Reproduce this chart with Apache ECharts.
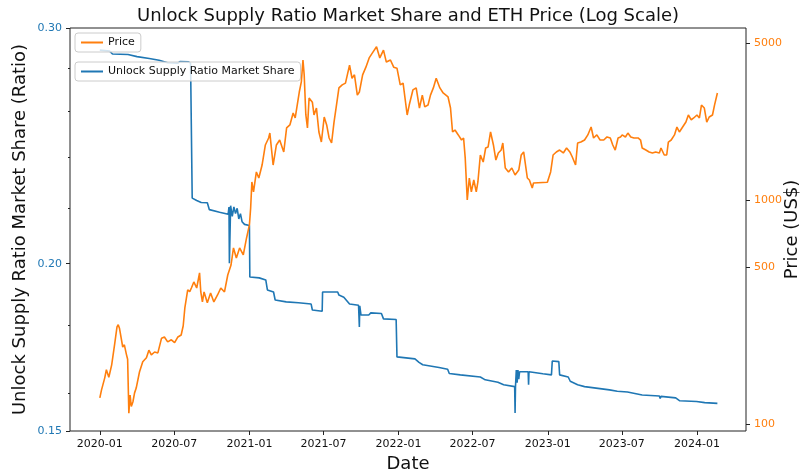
<!DOCTYPE html>
<html>
<head>
<meta charset="utf-8">
<script src="https://cdn.jsdelivr.net/npm/echarts@6/dist/echarts.min.js"></script>
<style>
	html, body {margin: 0; padding: 0; background: #fff;}
	#chart {width: 803px; height: 476px;}
</style>
</head>
<body>
<div id="chart"></div>
<script>
//ETH price
var priceDates = [
	'2020-01-01','2020-01-05','2020-01-13','2020-01-17','2020-01-23','2020-01-30','2020-02-06','2020-02-12','2020-02-15','2020-02-18',
	'2020-02-22','2020-02-26','2020-03-01','2020-03-06','2020-03-09','2020-03-12','2020-03-15','2020-03-18','2020-03-22','2020-03-26',
	'2020-03-30','2020-04-07','2020-04-15','2020-04-24','2020-04-30','2020-05-06','2020-05-14','2020-05-22','2020-05-31','2020-06-07',
	'2020-06-15','2020-06-24','2020-07-02','2020-07-10','2020-07-18','2020-07-23','2020-07-27','2020-08-03','2020-08-08','2020-08-12',
	'2020-08-18','2020-08-25','2020-09-01','2020-09-04','2020-09-08','2020-09-12','2020-09-20','2020-09-28','2020-10-06','2020-10-15',
	'2020-10-23','2020-11-01','2020-11-09','2020-11-17','2020-11-23','2020-11-30','2020-12-08','2020-12-17','2020-12-25','2021-01-01',
	'2021-01-04','2021-01-07','2021-01-11','2021-01-18','2021-01-24','2021-02-01','2021-02-09','2021-02-17','2021-02-20','2021-02-28',
	'2021-03-08','2021-03-16','2021-03-26','2021-04-02','2021-04-10','2021-04-18','2021-04-23','2021-05-03','2021-05-08','2021-05-12',
	'2021-05-15','2021-05-19','2021-05-23','2021-05-27','2021-06-04','2021-06-08','2021-06-14','2021-06-20','2021-06-26','2021-07-03',
	'2021-07-09','2021-07-15','2021-07-21','2021-07-27','2021-08-02','2021-08-08','2021-08-16','2021-08-24','2021-09-03','2021-09-09',
	'2021-09-15','2021-09-22','2021-09-27','2021-10-05','2021-10-13','2021-10-21','2021-10-29','2021-11-08','2021-11-16','2021-11-25',
	'2021-12-02','2021-12-12','2021-12-20','2021-12-28','2022-01-05','2022-01-12','2022-01-22','2022-01-27','2022-02-05','2022-02-13',
	'2022-02-21','2022-02-28','2022-03-06','2022-03-14','2022-03-20','2022-03-27','2022-04-03','2022-04-12','2022-04-20','2022-05-02',
	'2022-05-08','2022-05-13','2022-05-19','2022-05-27','2022-06-04','2022-06-09','2022-06-13','2022-06-18','2022-06-23','2022-06-28',
	'2022-07-04','2022-07-10','2022-07-14','2022-07-20','2022-07-27','2022-08-02','2022-08-08','2022-08-14','2022-08-21','2022-08-27',
	'2022-09-02','2022-09-09','2022-09-13','2022-09-19','2022-09-27','2022-10-05','2022-10-13','2022-10-22','2022-10-28','2022-11-03',
	'2022-11-07','2022-11-12','2022-11-17','2022-11-24','2022-11-27','2022-12-31','2023-01-08','2023-01-14','2023-01-22','2023-01-30',
	'2023-02-08','2023-02-16','2023-02-24','2023-03-02','2023-03-10','2023-03-15','2023-03-23','2023-04-01','2023-04-09','2023-04-17',
	'2023-04-23','2023-05-01','2023-05-09','2023-05-18','2023-05-26','2023-06-03','2023-06-09','2023-06-15','2023-06-22','2023-06-28',
	'2023-07-02','2023-07-10','2023-07-16','2023-07-23','2023-07-31','2023-08-10','2023-08-16','2023-08-20','2023-08-29','2023-09-06',
	'2023-09-14','2023-09-22','2023-10-01','2023-10-05','2023-10-13','2023-10-19','2023-10-23','2023-10-30','2023-11-07','2023-11-13',
	'2023-11-19','2023-11-27','2023-12-05','2023-12-11','2023-12-18','2023-12-24','2024-01-01','2024-01-07','2024-01-12','2024-01-19',
	'2024-01-25','2024-01-31','2024-02-08','2024-02-13','2024-02-20'
]
var priceValues = [
	131,142,161,175,162,184,226,272,278,268,
	263,221,226,205,195,112,135,120,126,138,
	145,171,190,198,214,204,210,208,242,245,
	233,238,231,245,250,275,330,397,390,405,
	431,405,473,389,351,389,348,385,351,377,
	405,389,463,513,611,551,611,569,677,774,
	921,1203,1086,1333,1253,1432,1759,1890,1988,1432,
	1759,1851,1637,2095,2161,2444,2321,3030,3360,4210,
	3615,2400,2095,2850,2730,2393,2570,2010,1813,2344,
	2161,1890,1795,2226,2650,3160,3260,3320,3995,3490,
	3615,2935,3030,3615,3910,4300,4530,4820,4300,4660,
	4120,4210,3910,3870,3260,3320,2393,2650,3095,3160,
	2570,2935,2600,2650,2935,3160,3490,3160,3000,2880,
	2570,2010,2051,1950,1851,1890,1540,1000,1253,1086,
	1228,1086,1203,1587,1476,1705,1723,2010,1759,1507,
	1620,1670,1795,1389,1333,1389,1292,1360,1587,1637,
	1637,1253,1228,1131,1190,1200,1333,1587,1637,1670,
	1620,1705,1637,1555,1432,1795,1813,1851,1950,2115,
	1890,1950,1851,1851,1910,1890,1759,1670,1890,1910,
	1950,1910,1988,1910,1890,1890,1851,1705,1670,1637,
	1620,1637,1620,1705,1587,1587,1813,1851,1950,2115,
	2010,2115,2226,2393,2274,2321,2393,2321,2650,2570,
	2226,2344,2393,2650,3000
]

//unlock supply ratio, step-like
var ratioDates = [
	'2020-01-01','2020-01-25','2020-02-01','2020-03-10','2020-04-01','2020-05-01','2020-05-25','2020-06-15','2020-07-10','2020-07-15',
	'2020-08-05','2020-08-10','2020-08-14','2020-08-25','2020-09-05','2020-09-20','2020-09-25','2020-10-20','2020-11-10','2020-11-12',
	'2020-11-13','2020-11-16','2020-11-20','2020-11-24','2020-11-28','2020-12-02','2020-12-06','2020-12-10','2020-12-14','2020-12-20',
	'2021-01-01','2021-01-02','2021-01-25','2021-02-10','2021-02-14','2021-03-01','2021-03-05','2021-04-01','2021-05-01','2021-06-01',
	'2021-06-04','2021-06-28','2021-06-29','2021-08-05','2021-08-08','2021-08-20','2021-09-03','2021-09-25','2021-09-27','2021-09-28',
	'2021-10-01','2021-10-20','2021-10-25','2021-11-20','2021-11-25','2021-12-26','2021-12-28','2022-02-10','2022-02-20','2022-03-01',
	'2022-04-10','2022-05-01','2022-05-05','2022-06-01','2022-07-20','2022-08-01','2022-09-01','2022-09-15','2022-10-12','2022-10-13',
	'2022-10-14','2022-10-16','2022-10-18','2022-10-20','2022-10-22','2022-10-24','2022-11-14','2022-11-15','2022-11-16','2022-12-20',
	'2023-01-10','2023-01-12','2023-01-28','2023-01-30','2023-02-20','2023-02-25','2023-03-15','2023-04-01','2023-06-01','2023-06-20',
	'2023-07-15','2023-08-20','2023-10-01','2023-10-03','2023-10-05','2023-11-10','2023-11-20','2023-12-31','2024-01-20','2024-02-20'
]
var ratioValues = [
	0.2888,0.2883,0.2869,0.2866,0.2856,0.2847,0.2838,0.2826,0.2824,0.2832,
	0.2830,0.2824,0.2239,0.2230,0.2222,0.2221,0.2195,0.2185,0.2178,0.2205,
	0.2002,0.2210,0.2170,0.2205,0.2180,0.2200,0.2160,0.2180,0.2150,0.2140,
	0.2136,0.1955,0.1952,0.1945,0.1912,0.1905,0.1879,0.1873,0.1870,0.1866,
	0.1847,0.1843,0.1905,0.1905,0.1895,0.1888,0.1866,0.1862,0.1794,0.1860,
	0.1831,0.1831,0.1838,0.1836,0.1819,0.1817,0.1704,0.1698,0.1688,0.1681,
	0.1673,0.1668,0.1656,0.1652,0.1646,0.1638,0.1631,0.1624,0.1619,0.1547,
	0.1619,0.1666,0.1630,0.1666,0.1640,0.1661,0.1661,0.1624,0.1661,0.1655,
	0.1652,0.1692,0.1690,0.1652,0.1646,0.1634,0.1624,0.1619,0.1610,0.1606,
	0.1604,0.1596,0.1593,0.1586,0.1592,0.1588,0.1580,0.1578,0.1575,0.1573
]

var xTickDates = ['2020-01-01','2020-07-01','2021-01-01','2021-07-01','2022-01-01','2022-07-01','2023-01-01','2023-07-01','2024-01-01']
var ratioMajorTicks = [0.15, 0.20, 0.30]
var ratioMinorTicks = [0.16, 0.18, 0.22, 0.24, 0.26, 0.28]
var priceTicks = [100, 500, 1000, 5000]
var ratioRange = [0.15, 0.30]
var priceRange = [93.3, 5846]
var dateRange = ['2019-10-20', '2024-04-30']

var blue = '#1f77b4'
var orange = '#ff7f0e'
var font = 'DejaVu Sans'

function toTime(s) {
	var p = s.split('-')
	return Date.UTC(+p[0], +p[1] - 1, +p[2])
}
function lg(v) {
	return Math.log10(v)
}
function pad2(n) {
	return n < 10 ? '0' + n : '' + n
}

var priceData = priceDates.map(function(d, i) { return [toTime(d), lg(priceValues[i])] })
var ratioData = ratioDates.map(function(d, i) { return [toTime(d), lg(ratioValues[i])] })

var chart = echarts.init(document.getElementById('chart'), null, {renderer: 'canvas'})

var option = {
	animation: false,
	backgroundColor: '#fff',
	textStyle: {fontFamily: font},
	title: {
		text: 'Unlock Supply Ratio Market Share and ETH Price (Log Scale)',
		left: 403,
		top: 2,
		textAlign: 'center',
		textStyle: {fontFamily: font, fontSize: 18, fontWeight: 'normal', color: '#111'}
	},
	legend: [{
		data: ['Price'],
		left: 75, top: 33,
		orient: 'vertical',
		icon: 'rect', itemWidth: 22, itemHeight: 2,
		padding: [4, 6, 4, 6],
		backgroundColor: 'rgba(255,255,255,0.8)',
		borderColor: '#cccccc', borderWidth: 1, borderRadius: 3,
		textStyle: {fontFamily: font, fontSize: 11, color: '#111'},
		z: 6
	}, {
		data: ['Unlock Supply Ratio Market Share'],
		left: 75, top: 62,
		orient: 'vertical',
		icon: 'rect', itemWidth: 22, itemHeight: 2,
		padding: [4, 6, 4, 6],
		backgroundColor: 'rgba(255,255,255,0.8)',
		borderColor: '#cccccc', borderWidth: 1, borderRadius: 3,
		textStyle: {fontFamily: font, fontSize: 11, color: '#111'},
		z: 3
	}],
	grid: {
		left: 70, right: 57, top: 28, bottom: 45,
		containLabel: false,
		outerBoundsMode: 'none',
		show: true, borderColor: '#222', borderWidth: 1, backgroundColor: 'transparent'
	},
	xAxis: {
		type: 'value',
		min: toTime(dateRange[0]),
		max: toTime(dateRange[1]),
		name: 'Date',
		nameLocation: 'middle',
		nameGap: 24,
		nameMoveOverlap: false,
		nameTextStyle: {fontFamily: font, fontSize: 18, color: '#111'},
		axisLine: {show: false},
		splitLine: {show: false},
		axisTick: {show: true, length: 4, lineStyle: {color: '#222'}, customValues: xTickDates.map(toTime)},
		axisLabel: {
			fontFamily: font, fontSize: 11, color: '#111', margin: 8,
			customValues: xTickDates.map(toTime),
			formatter: function(v) {
				var d = new Date(v)
				return d.getUTCFullYear() + '-' + pad2(d.getUTCMonth() + 1)
			}
		}
	},
	yAxis: [{
		//left major
		type: 'value',
		position: 'left',
		min: lg(ratioRange[0]), max: lg(ratioRange[1]),
		name: 'Unlock Supply Ratio Market Share (Ratio)',
		nameLocation: 'middle',
		nameGap: 41,
		nameMoveOverlap: false,
		nameTextStyle: {fontFamily: font, fontSize: 18, color: '#111'},
		axisLine: {show: false},
		splitLine: {show: false},
		axisTick: {show: true, length: 4, lineStyle: {color: '#222'}, customValues: ratioMajorTicks.map(lg)},
		axisLabel: {
			fontFamily: font, fontSize: 11, color: blue, margin: 8,
			customValues: ratioMajorTicks.map(lg),
			formatter: function(v) { return Math.pow(10, v).toFixed(2) }
		}
	}, {
		//left minor ticks only
		type: 'value',
		position: 'left',
		min: lg(ratioRange[0]), max: lg(ratioRange[1]),
		axisLine: {show: false},
		splitLine: {show: false},
		axisTick: {show: true, length: 2, lineStyle: {color: '#222'}, customValues: ratioMinorTicks.map(lg)},
		axisLabel: {show: false}
	}, {
		//right price
		type: 'value',
		position: 'right',
		min: lg(priceRange[0]), max: lg(priceRange[1]),
		name: 'Price (US$)',
		nameLocation: 'middle',
		nameGap: 37,
		nameMoveOverlap: false,
		nameTextStyle: {fontFamily: font, fontSize: 18, color: '#111'},
		axisLine: {show: false},
		splitLine: {show: false},
		axisTick: {show: true, length: 4, lineStyle: {color: '#222'}, customValues: priceTicks.map(lg)},
		axisLabel: {
			fontFamily: font, fontSize: 11, color: orange, margin: 8,
			customValues: priceTicks.map(lg),
			formatter: function(v) { return '' + Math.round(Math.pow(10, v)) }
		}
	}],
	series: [{
		name: 'Unlock Supply Ratio Market Share',
		type: 'line',
		yAxisIndex: 0,
		data: ratioData,
		showSymbol: false,
		color: blue,
		lineStyle: {width: 1.6, color: blue},
		z: 2
	}, {
		name: 'Price',
		type: 'line',
		yAxisIndex: 2,
		data: priceData,
		showSymbol: false,
		color: orange,
		lineStyle: {width: 1.6, color: orange},
		z: 4
	}]
}

chart.setOption(option)
</script>
</body>
</html>
